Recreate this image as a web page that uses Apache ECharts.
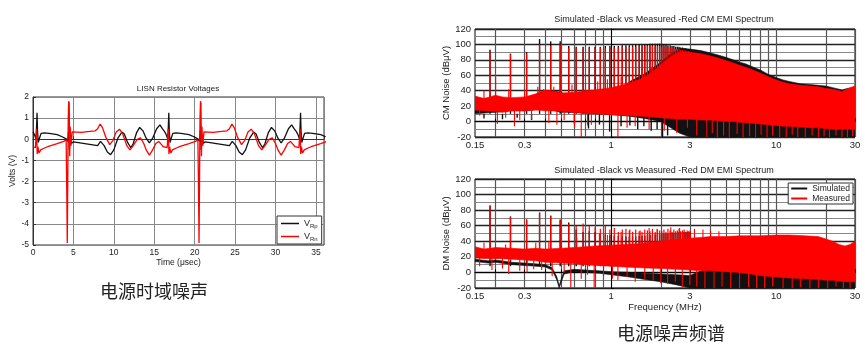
<!DOCTYPE html>
<html><head><meta charset="utf-8">
<script src="https://cdn.jsdelivr.net/npm/echarts@6/dist/echarts.min.js"></script>
<style>html,body{margin:0;padding:0;background:#fff}#c{width:865px;height:356px}</style>
</head><body><div id="c"></div>
<script>
// ---------- Time domain (LISN Resistor Voltages) ----------
const rpTime = [0.0,0.2,0.38,0.45,0.5,0.56,0.65,0.8,1.0,1.2,1.4,2.0,3.0,3.6,4.1,4.3,4.4,4.5,4.6,4.75,5.0,6.0,7.0,8.0,8.15,8.35,8.5,8.8,9.2,9.6,10.0,10.5,11.0,11.3,11.7,12.1,12.4,12.8,13.2,13.6,14.0,14.4,14.8,15.3,15.7,16.0,
16.3,16.5,16.68,16.75,16.8,16.86,16.95,17.1,17.3,17.5,17.7,18.3,19.3,19.9,20.4,20.6,20.7,20.8,20.9,21.05,21.3,22.3,23.3,24.3,24.45,24.65,24.8,25.1,25.5,25.9,26.3,26.8,27.3,27.6,28.0,28.4,28.7,29.1,29.5,29.9,30.3,30.7,31.1,31.6,32.0,32.3,
32.6,32.8,32.98,33.05,33.1,33.16,33.25,33.4,33.6,33.8,34.0,34.6,35.6,36.2];
const rpVolt = [0.35,0.2,0.0,0.7,1.25,0.4,-0.15,0.05,0.28,0.22,0.3,0.28,0.22,0.12,0.02,-0.1,0.4,-0.5,0.2,-0.2,-0.12,-0.18,-0.24,-0.3,-0.36,-0.1,-0.08,-0.3,-0.6,-0.73,-0.5,0.05,0.34,0.25,-0.15,-0.4,-0.2,0.3,0.56,0.4,0.05,-0.17,0.05,0.5,0.68,0.5,
0.35,0.2,0.0,0.7,1.25,0.4,-0.15,0.05,0.28,0.22,0.3,0.28,0.22,0.12,0.02,-0.1,0.4,-0.5,0.2,-0.2,-0.12,-0.18,-0.24,-0.3,-0.36,-0.1,-0.08,-0.3,-0.6,-0.73,-0.5,0.05,0.34,0.25,-0.15,-0.4,-0.2,0.3,0.56,0.4,0.05,-0.17,0.05,0.5,0.68,0.5,
0.35,0.2,0.0,0.7,1.25,0.4,-0.15,0.05,0.28,0.22,0.3,0.28,0.22,0.12];
const rnTime = [0.0,0.3,0.44,0.52,0.6,0.75,0.95,1.5,2.0,3.0,3.8,4.1,4.18,4.24,4.3,4.36,4.42,4.48,4.54,4.6,4.7,4.85,5.0,6.0,7.0,7.7,8.0,8.3,8.6,9.0,9.5,9.9,10.3,10.7,11.1,11.6,12.0,12.4,12.9,13.3,13.7,14.0,14.4,14.8,15.2,15.55,15.9,16.1,
16.3,16.6,16.74,16.82,16.9,17.05,17.25,17.8,18.3,19.3,20.1,20.4,20.48,20.54,20.6,20.66,20.72,20.78,20.84,20.9,21.0,21.15,21.3,22.3,23.3,24.0,24.3,24.6,24.9,25.3,25.8,26.2,26.6,27.0,27.4,27.9,28.3,28.7,29.2,29.6,30.0,30.3,30.7,31.1,31.5,31.85,32.2,32.4,
32.6,32.9,33.04,33.12,33.2,33.35,33.55,34.1,34.6,35.6,36.4];
const rnVolt = [-0.35,-0.4,0.5,-0.7,-0.35,-0.65,-0.5,-0.4,-0.32,-0.2,-0.1,-0.02,-2.5,-4.9,-2.0,1.0,1.8,1.7,-0.8,0.6,-0.3,0.35,0.28,0.33,0.37,0.4,0.5,0.72,0.55,0.1,-0.25,-0.05,0.35,0.48,0.25,-0.3,-0.5,-0.3,0.0,0.07,-0.2,-0.5,-0.75,-0.5,-0.2,-0.1,-0.25,-0.35,
-0.35,-0.4,0.5,-0.7,-0.35,-0.65,-0.5,-0.4,-0.32,-0.2,-0.1,-0.02,-2.5,-4.9,-2.0,1.0,1.8,1.7,-0.8,0.6,-0.3,0.35,0.28,0.33,0.37,0.4,0.5,0.72,0.55,0.1,-0.25,-0.05,0.35,0.48,0.25,-0.3,-0.5,-0.3,0.0,0.07,-0.2,-0.5,-0.75,-0.5,-0.2,-0.1,-0.25,-0.35,
-0.35,-0.4,0.5,-0.7,-0.35,-0.65,-0.5,-0.4,-0.32,-0.2,-0.1];
const timeTicks = [0,5,10,15,20,25,30,35];

// ---------- Spectra ----------
const freqLabels = [0.15,0.3,1,3,10,30];
const freqGrid = [0.2,0.3,0.4,0.5,0.6,0.7,0.8,0.9,1,2,3,4,5,6,7,8,9,10,20,30];
const harmFreq = [0.185,0.246,0.308,0.369,0.431,0.492,0.554,0.615,0.677,0.738,0.80,0.861,0.923,0.984,1.046,1.107,1.169,1.23,1.29,1.35,1.41,1.48,1.54,1.60,1.66,1.72,1.78,1.85,1.91,1.97,2.03,2.09,2.15,2.21,2.28,2.34,2.40,2.46,2.52,2.58,2.64,2.71,2.77,2.83,2.89,2.95,3.01];

// CM
const cmSimPeak = [93,88,90,107,104,104,98,97,97,97,97,97,98,98,98,98,99,99,99,99,100,100,100,100,100,101,101,101,101,101,101,100,100,99,99,98,98,97,97,97,96,96,95,95,94,94,93];
const cmMeasPeak = [92,87,88,100,98,100,95,95,94,95,95,96,95,96,96,96,97,97,97,97,97,98,98,98,98,98,98,98,98,98,97,97,97,96,96,95,95,94,94,94,93,93,92,92,91,91,90];
const cmSimBandF = [0.15,0.17,0.2,0.25,0.3,0.34,0.37,0.43,0.5,0.55,0.65,0.8,1.0,1.3,1.6,2.0,2.3,2.6,3.0,3.5,4.0,4.5,5.0,5.5,6.0,6.5,7.0,8.0,9.0,10,11,12,14,16,18,20,22,24,25,27,30];
const cmSimBandHi = [28,26,24,27,28,33,38,40,38,33,32,32,34,52,62,77,88,95,94,92,89,86,83,80,77,75,72,67,61,57,54,52,49,48,47,46,44,42,41,43,44];
const cmSimBandLo = [10,11,12,14,14,15,16,15,12,12,11,10,9,7,4,0,-8,-15,-20,-20,-20,-20,-20,-20,-20,-20,-20,-20,-20,-20,-20,-20,-20,-20,-20,-20,-20,-20,-20,-20,-20];
const cmMeasBandF = [0.15,0.17,0.2,0.22,0.25,0.3,0.35,0.4,0.45,0.5,0.6,0.7,0.8,1.0,1.2,1.5,1.8,2.0,2.3,2.6,3.0,3.5,4.0,4.5,5.0,5.5,6.0,7.0,8.0,9.0,10,11,12,14,16,18,20,22,25,28,30];
const cmMeasBandHi = [33,30,34,32,31,32,36,41,39,37,38,40,41,44,48,55,65,74,84,90,90,88,85,82,79,76,73,68,63,58,54,51,49,47,46,45,43,42,39,44,46];
const cmMeasBandLo = [15,14,13,12,14,14,15,14,14,13,12,11,10,9,8,7,6,5,4,3,3,2,2,1,0,0,-1,-2,-3,-4,-5,-6,-6,-7,-8,-8,-9,-10,-10,-10,-10];
const cmMeasSpikeF = [0.16,0.2,0.205,0.23,0.26,0.28,0.33,0.36,0.39,0.42,0.47,0.52,0.6,0.66,0.72,0.76,0.9,1.1,1.25,1.4,1.7,2.1,2.5,2.9,3.3,3.8,4.1,4.4,4.8,5.2,5.8,6.3,6.9,7.5,8.1,8.8,9.5,10.5,11.5,12.5,13.5,15,16.5,18,19.5,21,23,25,27,29,
0.17,0.24,0.3,0.45,0.58,0.7,0.83,0.95,1.15,1.35,1.55,1.75];
const cmMeasSpikeV = [8,58,-3,5,-6,2,3,45,42,-2,-4,2,-8,-20,-5,-4,-6,-20,-8,-6,-10,-12,-15,-8,-18,-20,-15,-20,-18,-20,-16,-20,-19,-20,-17,-20,-18,-20,-20,-17,-20,-20,-18,-20,-19,-20,-18,-20,-20,-19,
40,42,40,45,48,50,52,55,58,62,65,70];
const cmSimSpikeF = [0.17,0.22,0.27,0.33,0.6,0.73,0.85,0.98,1.15,1.3,1.45,1.58,1.75,1.9,2.05,2.2];
const cmSimSpikeV = [4,3,5,2,-3,-9,-4,-13,-6,-5,-10,-6,-12,-10,-20,-18];

// DM
const dmSimPeak = [86,72,68,77,73,68,64,55,52,53,52,48,49,48,47,47,46,46,46,46,46,47,47,47,48,48,48,49,49,49,50,50,50,50,51,51,51,51,51,52,52,52,52,52,52,52,52];
const dmMeasPeak = [86,71,68,76,72,67,62,60,63,60,58,56,60,55,57,52,55,56,54,52,55,53,52,55,54,53,56,52,55,54,53,55,52,56,54,52,55,53,54,56,53,54,55,52,54,53,54];
const dmSimBandF = [0.15,0.18,0.2,0.25,0.3,0.35,0.4,0.44,0.47,0.485,0.5,0.52,0.6,0.7,0.85,1.0,1.3,1.6,2.0,2.5,3.0,3.5,4.0,5.0,6.0,7.0,8.0,10,15,20,30];
const dmSimBandHi = [17,15,16,13,12,11,10,6,-6,-17,-8,2,4,3,2,1,0,-1,-2,-3,-4,2,4,5,5,3,0,-2,-4,-5,-5];
const dmSimBandLo = [14,12,13,10,9,8,7,3,-10,-20,-12,-2,1,0,-1,-3,-6,-9,-12,-16,-20,-20,-20,-20,-20,-20,-20,-20,-20,-20,-20];
const dmMeasBandF = [0.15,0.17,0.2,0.25,0.3,0.35,0.4,0.5,0.6,0.7,0.8,1.0,1.2,1.5,2.0,2.5,3,3.5,4,5,6,7,8,10,12,15,18,20,22,24,26,28,30];
const dmMeasBandHi = [33,30,32,31,30,31,30,31,32,33,34,35,36,37,40,42,44,45,46,46,47,47,47,48,48,47,46,43,40,36,34,36,40];
const dmMeasBandLo = [19,18,18,17,16,15,13,12,11,10,9,8,7,6,5,4,3,2,2,1,0,-2,-4,-6,-7,-8,-9,-10,-10,-11,-12,-12,-12];
const dmMeasSpikeF = [0.16,0.19,0.22,0.24,0.28,0.31,0.34,0.38,0.44,0.52,0.57,0.66,0.72,0.79,0.9,1.02,1.1,1.25,1.4,1.6,1.8,2.0,2.2,2.45,2.7,3.0,3.3,3.7,4.2,4.7,5.3,6,6.8,7.6,8.5,9.5,11,12.5,14,16,18,20.5,23,25.5,28,
0.17,0.23,0.35,0.42,0.5,0.62,0.7,0.85,0.95,1.15,1.3,1.5,1.7,1.9,2.3,2.6,3.2,3.6,4.0,4.5];
const dmMeasSpikeV = [8,3,5,-2,2,0,4,3,-5,0,-20,-8,-3,-20,-5,-8,-10,-6,-12,-8,-10,-14,-15,-12,-20,-16,-18,-20,-20,-18,-20,-20,-19,-20,-20,-18,-20,-20,-19,-20,-20,-20,-18,-20,-20,
38,36,38,40,40,45,47,50,48,52,55,54,57,56,58,57,56,55,54,53];

// ---------- build ----------
const lg = Math.log10;
const BLACK = '#111', RED = '#ff0000';
const FONT = '"Liberation Sans", Arial, sans-serif';

function bandSeries(name, color, gi, F, LO, HI) {
  return {
    type: 'custom', name, xAxisIndex: gi, yAxisIndex: gi, silent: true, clip: true,
    itemStyle: {color}, encode: {x: 0, y: [1, 2]},
    data: [[lg(F[0]), LO[0], HI[0]]],
    renderItem: (params, api) => {
      const pts = [];
      for (let i = 0; i < F.length; i++) pts.push(api.coord([lg(F[i]), HI[i]]));
      for (let i = F.length - 1; i >= 0; i--) pts.push(api.coord([lg(F[i]), LO[i]]));
      return {type: 'polygon', shape: {points: pts}, style: {fill: color, stroke: color, lineWidth: 0.6}};
    }
  };
}
function vlineSeries(name, color, width, gi, F, base, V) {
  return {
    type: 'custom', name, xAxisIndex: gi, yAxisIndex: gi, silent: true, clip: true,
    itemStyle: {color}, encode: {x: 0, y: [1, 2]},
    data: F.map((f, i) => [lg(f), base, V[i]]),
    renderItem: (params, api) => {
      const a = api.coord([api.value(0), api.value(1)]);
      const b = api.coord([api.value(0), api.value(2)]);
      return {type: 'line', shape: {x1: a[0], y1: a[1], x2: b[0], y2: b[1]}, style: {stroke: color, lineWidth: width}};
    }
  };
}

const axisText = {color: '#222', fontFamily: FONT};
function freqX(gi, withName) {
  return {
    type: 'value', gridIndex: gi, min: lg(0.15), max: lg(30),
    axisLine: {show: true, lineStyle: {color: '#000'}},
    axisTick: {show: true, inside: true, length: 3, customValues: freqGrid.map(lg), lineStyle: {color: '#000'}},
    axisLabel: Object.assign({fontSize: 9.5, margin: 3, customValues: freqLabels.map(lg),
      formatter: v => String(+Math.pow(10, v).toPrecision(3))}, axisText),
    splitLine: {show: true, lineStyle: {color: '#555', width: 1.2}},
    name: withName ? 'Frequency (MHz)' : '', nameLocation: 'middle', nameGap: 11,
    nameTextStyle: Object.assign({fontSize: 9.5}, axisText)
  };
}
function dbY(gi, name) {
  return {
    type: 'value', gridIndex: gi, min: -20, max: 120, interval: 20,
    axisLine: {show: true, lineStyle: {color: '#000'}},
    axisTick: {show: true, inside: true, length: 3, lineStyle: {color: '#000'}},
    axisLabel: Object.assign({fontSize: 9.5, margin: 4}, axisText),
    splitLine: {show: true, lineStyle: {color: '#222', width: 1.4}},
    minorTick: {show: false, splitNumber: 2},
    minorSplitLine: {show: true, lineStyle: {color: '#888', width: 1}},
    name, nameLocation: 'middle', nameGap: 20,
    nameTextStyle: Object.assign({fontSize: 9.5}, axisText)
  };
}

const option = {
  animation: false,
  backgroundColor: '#fff',
  title: [
    {text: 'LISN Resistor Voltages', left: 178, top: 85, textAlign: 'center', padding: 0,
     textStyle: {fontSize: 8, fontWeight: 'normal', color: '#222', fontFamily: FONT}},
    {text: 'Simulated -Black vs Measured -Red CM EMI Spectrum', left: 664, top: 15, textAlign: 'center', padding: 0,
     textStyle: {fontSize: 9, fontWeight: 'normal', color: '#222', fontFamily: FONT}},
    {text: 'Simulated -Black vs Measured -Red DM EMI Spectrum', left: 664, top: 166, textAlign: 'center', padding: 0,
     textStyle: {fontSize: 9, fontWeight: 'normal', color: '#222', fontFamily: FONT}},
    {text: '电源时域噪声', left: 154, top: 282, textAlign: 'center', padding: 0,
     textStyle: {fontSize: 18, fontWeight: 'normal', color: '#222', fontFamily: '"Noto Sans CJK SC", sans-serif'}},
    {text: '电源噪声频谱', left: 671, top: 324, textAlign: 'center', padding: 0,
     textStyle: {fontSize: 18, fontWeight: 'normal', color: '#222', fontFamily: '"Noto Sans CJK SC", sans-serif'}}
  ],
  legend: [
    {data: ['V_Rp', 'V_Rn'], left: 277, top: 216, orient: 'vertical', icon: 'rect',
     itemWidth: 18, itemHeight: 1.5, itemGap: 3, padding: [3, 4, 2, 4],
     borderColor: '#333', borderWidth: 1, backgroundColor: '#fff',
     formatter: n => n === 'V_Rp' ? 'V{s|Rp}' : 'V{s|Rn}',
     textStyle: {fontSize: 9, color: '#222', fontFamily: FONT,
       rich: {s: {fontSize: 6, color: '#222', fontFamily: FONT, padding: [5, 0, 0, 0]}}}},
    {data: [{name: 'Simulated', itemStyle: {color: BLACK}}, {name: 'Measured', itemStyle: {color: RED}}],
     right: 12, top: 183, orient: 'vertical', icon: 'rect',
     itemWidth: 16, itemHeight: 2, itemGap: 1, padding: [1, 3, 1, 3],
     borderColor: '#333', borderWidth: 1, backgroundColor: '#fff',
     textStyle: {fontSize: 8.5, color: '#222', fontFamily: FONT}}
  ],
  grid: [
    {left: 33, top: 97, width: 291, height: 148, show: true, borderColor: '#333', borderWidth: 1, backgroundColor: '#fff'},
    {left: 475, top: 29, width: 380, height: 108, show: true, borderColor: '#000', borderWidth: 1, backgroundColor: '#fff'},
    {left: 475, top: 179, width: 380, height: 109, show: true, borderColor: '#000', borderWidth: 1, backgroundColor: '#fff'}
  ],
  xAxis: [
    {type: 'value', gridIndex: 0, min: 0, max: 36, interval: 5,
     axisLine: {show: true, lineStyle: {color: '#333'}},
     axisTick: {show: true, inside: true, length: 3, lineStyle: {color: '#333'}},
     axisLabel: Object.assign({fontSize: 8.5, margin: 3, formatter: v => timeTicks.indexOf(v) >= 0 ? String(v) : ''}, axisText),
     splitLine: {show: true, lineStyle: {color: '#888', width: 1}},
     name: 'Time (\u03bcsec)', nameLocation: 'middle', nameGap: 11,
     nameTextStyle: Object.assign({fontSize: 8.5}, axisText)},
    freqX(1, false),
    freqX(2, true)
  ],
  yAxis: [
    {type: 'value', gridIndex: 0, min: -5, max: 2, interval: 1,
     axisLine: {show: true, lineStyle: {color: '#333'}},
     axisTick: {show: true, inside: true, length: 3, lineStyle: {color: '#333'}},
     axisLabel: Object.assign({fontSize: 8.5, margin: 4}, axisText),
     splitLine: {show: true, lineStyle: {color: '#888', width: 1}},
     name: 'Volts (V)', nameLocation: 'middle', nameGap: 12,
     nameTextStyle: Object.assign({fontSize: 8.5}, axisText)},
    dbY(1, 'CM Noise (dB\u03bcV)'),
    dbY(2, 'DM Noise (dB\u03bcV)')
  ],
  series: [
    {type: 'line', name: 'V_Rp', xAxisIndex: 0, yAxisIndex: 0, showSymbol: false, symbol: 'none',
     color: BLACK, lineStyle: {color: BLACK, width: 1.3}, data: rpTime.map((t, i) => [t, rpVolt[i]])},
    {type: 'line', name: 'V_Rn', xAxisIndex: 0, yAxisIndex: 0, showSymbol: false, symbol: 'none',
     color: RED, lineStyle: {color: RED, width: 1.3}, data: rnTime.map((t, i) => [t, rnVolt[i]])},
    // CM
    bandSeries('Simulated', BLACK, 1, cmSimBandF, cmSimBandLo, cmSimBandHi),
    vlineSeries('Simulated', BLACK, 1.4, 1, cmSimSpikeF, 10, cmSimSpikeV),
    vlineSeries('Simulated', BLACK, 1.4, 1, harmFreq, 10, cmSimPeak),
    bandSeries('Measured', RED, 1, cmMeasBandF, cmMeasBandLo, cmMeasBandHi),
    vlineSeries('Measured', RED, 1.1, 1, cmMeasSpikeF, 20, cmMeasSpikeV),
    vlineSeries('Measured', RED, 1.2, 1, harmFreq, 15, cmMeasPeak),
    // DM
    bandSeries('Simulated', BLACK, 2, dmSimBandF, dmSimBandLo, dmSimBandHi),
    vlineSeries('Simulated', BLACK, 1.4, 2, harmFreq, 8, dmSimPeak),
    bandSeries('Measured', RED, 2, dmMeasBandF, dmMeasBandLo, dmMeasBandHi),
    vlineSeries('Measured', RED, 1.1, 2, dmMeasSpikeF, 20, dmMeasSpikeV),
    vlineSeries('Measured', RED, 1.2, 2, harmFreq, 15, dmMeasPeak)
  ]
};
const chart = echarts.init(document.getElementById('c'), null, {renderer: 'canvas'});
chart.setOption(option);
</script></body></html>
